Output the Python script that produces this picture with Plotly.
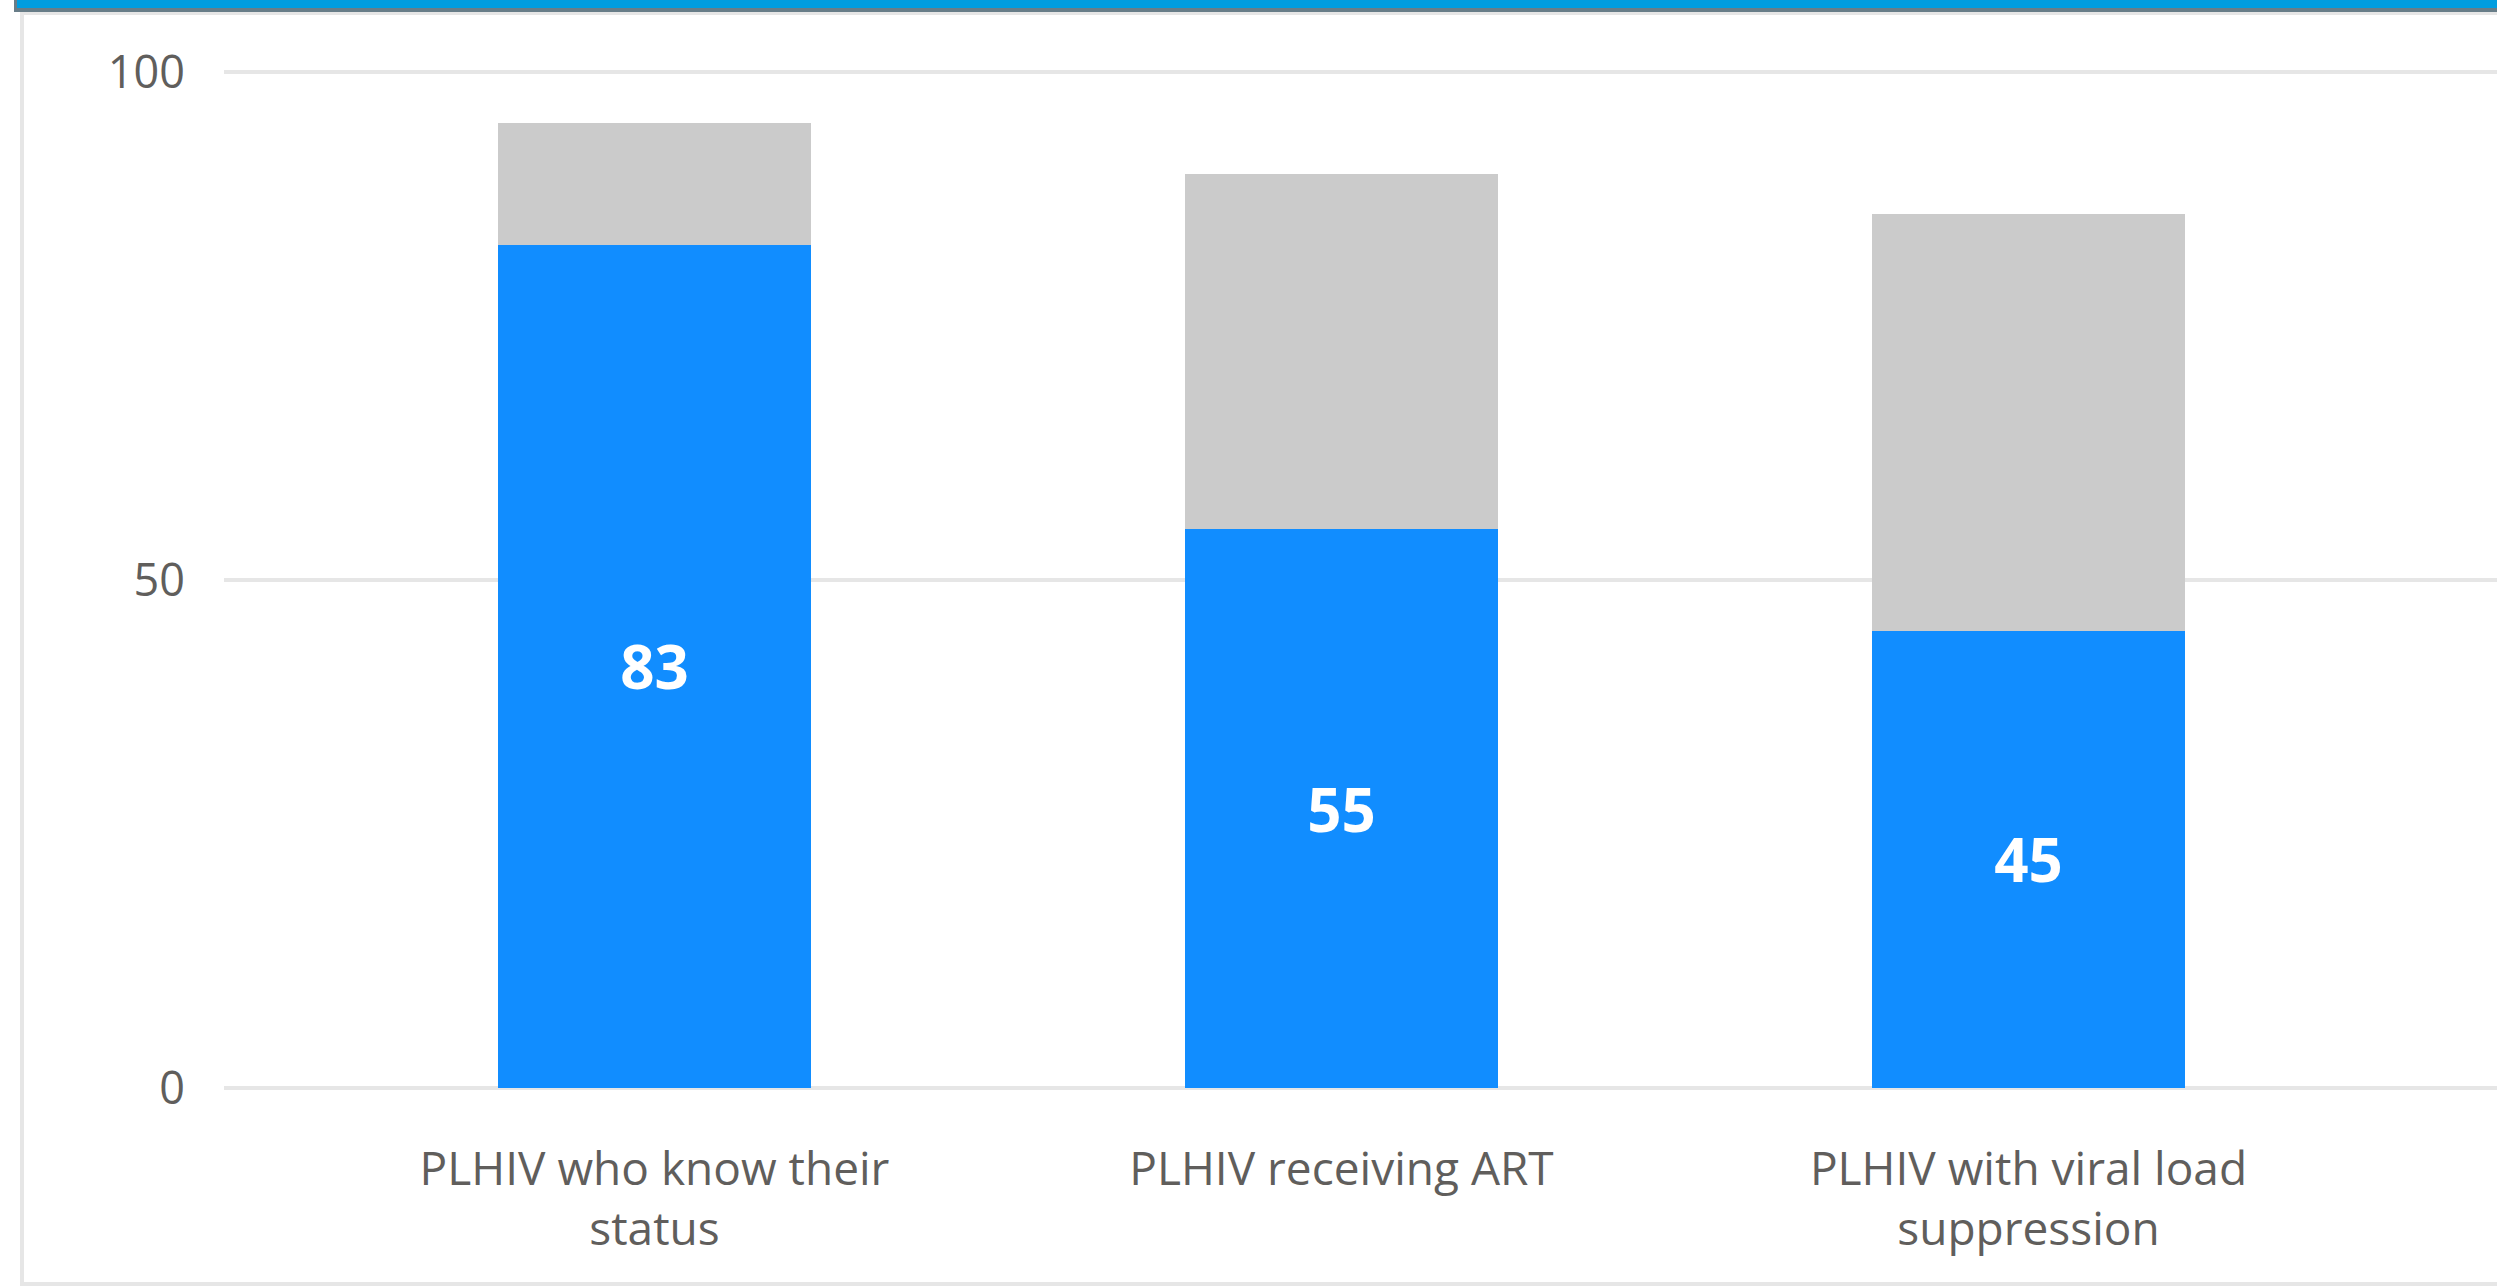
import plotly.graph_objects as go

# ---- data ----
categories = ["PLHIV who know their status", "PLHIV receiving ART", "PLHIV with viral load suppression"]
tick_labels = ["PLHIV who know their<br>status", "PLHIV receiving ART", "PLHIV with viral load<br>suppression"]
achieved = [83, 55, 45]
gap_to_target = [12, 35, 41]
y_ticks = [0, 50, 100]

W, H = 2497, 1288
L, R, T, B = 224, 0, 70, 198
PW, PH = W - L - R, H - T - B


def px(x):
    return (x - L) / PW


def py(y):
    return (H - B - y) / PH


fig = go.Figure()
fig.add_trace(go.Bar(
    x=categories, y=achieved, marker=dict(color="#118DFF", line=dict(width=0)),
    text=[str(v) for v in achieved], textposition="inside", insidetextanchor="middle",
    textfont=dict(family="Open Sans", size=60, color="#FFFFFF", weight="bold"),
    textangle=0, hoverinfo="skip", showlegend=False,
))
fig.add_trace(go.Bar(
    x=categories, y=gap_to_target, marker=dict(color="#CBCBCB", line=dict(width=0)),
    hoverinfo="skip", showlegend=False,
))

shapes = [
    # card border
    dict(type="rect", xref="paper", yref="paper", x0=px(22), x1=px(2520), y0=py(1284), y1=py(13),
         line=dict(color="#E6E6E6", width=4), fillcolor="rgba(0,0,0,0)", layer="below"),
    # top band shadow
    dict(type="rect", xref="paper", yref="paper", x0=px(14), x1=px(2520), y0=py(12), y1=py(-2),
         line=dict(width=0), fillcolor="#687D88", layer="above"),
    # top band
    dict(type="rect", xref="paper", yref="paper", x0=px(17), x1=px(2520), y0=py(8), y1=py(-2),
         line=dict(width=0), fillcolor="#009DDF", layer="above"),
]

fig.update_layout(
    width=W, height=H, barmode="stack", bargap=0.5444,
    margin=dict(l=L, r=R, t=T, b=B, pad=0),
    paper_bgcolor="#FFFFFF", plot_bgcolor="#FFFFFF",
    font=dict(family="Open Sans", color="#605E5C"),
    shapes=shapes,
    xaxis=dict(
        type="category", categoryorder="array", categoryarray=categories,
        tickmode="array", tickvals=categories, ticktext=tick_labels,
        range=[-0.6266, 2.682], showgrid=False, zeroline=False, showline=False,
        ticks="", tickfont=dict(size=46, color="#605E5C"), ticklabelstandoff=48,
        fixedrange=True,
    ),
    yaxis=dict(
        range=[-0.2, 100.2], tickmode="array", tickvals=y_ticks, ticktext=[str(v) for v in y_ticks],
        showgrid=True, gridcolor="#E6E6E6", gridwidth=4, zeroline=False, showline=False,
        ticks="", tickfont=dict(size=45, color="#605E5C"), ticklabelstandoff=38,
        fixedrange=True,
    ),
)

fig.write_html("out.html", config={"displayModeBar": False},
               post_script="document.body.style.margin='0';")
